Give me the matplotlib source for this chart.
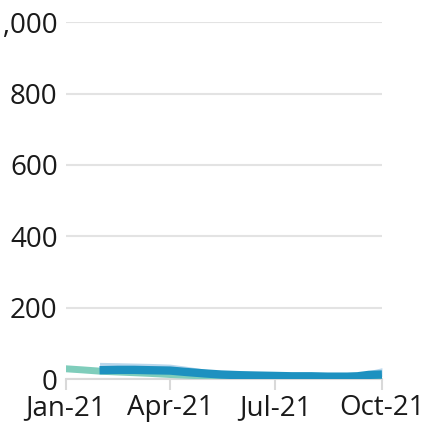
import numpy as np
import pandas as pd
import matplotlib
matplotlib.use("Agg")
import matplotlib.pyplot as plt
import matplotlib.dates as mdates

plt.rcParams['font.family'] = ['Open Sans', 'DejaVu Sans']

# teal series, Jan-Oct
teal_dates = pd.to_datetime(['2021-01-01', '2021-01-15', '2021-02-01', '2021-02-15', '2021-03-01',
                             '2021-03-15', '2021-04-01', '2021-04-15', '2021-05-01', '2021-05-15',
                             '2021-06-01', '2021-06-15', '2021-07-01', '2021-07-15', '2021-08-01',
                             '2021-08-15', '2021-09-01', '2021-09-15', '2021-10-01'])
teal_vals = [29, 26, 22, 20, 18, 16, 13, 11, 9, 7, 6, 5, 5, 4, 4, 4, 3, 3, 2]

# blue series with uncertainty band
blue_dates = pd.to_datetime(['2021-01-30', '2021-02-15', '2021-03-01', '2021-03-15', '2021-04-01',
                             '2021-04-15', '2021-05-01', '2021-05-15', '2021-06-01', '2021-06-15',
                             '2021-07-01', '2021-07-15', '2021-08-01', '2021-08-15', '2021-09-01',
                             '2021-09-10', '2021-09-20', '2021-10-01'])
blue_vals = [25, 26, 26, 25, 24, 20, 16, 13, 11, 10, 9, 8, 8, 7, 7, 8, 12, 13]
band_hi = [47, 46, 45, 44, 42, 36, 28, 22, 18, 16, 14, 13, 12, 12, 12, 14, 24, 32]
band_lo = [19, 20, 20, 19, 18, 15, 11, 9, 7, 6, 5, 4, 4, 4, 4, 4, 6, 7]

# dark navy series
navy_dates = pd.to_datetime(['2021-04-15', '2021-05-01', '2021-05-15', '2021-06-01', '2021-06-15',
                             '2021-07-01', '2021-07-15', '2021-08-01', '2021-08-15', '2021-09-01',
                             '2021-09-15'])
navy_vals = [21, 17, 15, 14, 13, 13, 12, 11, 10, 10, 10]

fig = plt.figure(figsize=(4.34, 4.26), dpi=100)
ax = fig.add_axes([0.152, 0.110, 0.728, 0.838])

ax.fill_between(blue_dates, band_lo, band_hi, color='#b9d7ec', lw=0, zorder=2)
ax.plot(teal_dates, teal_vals, color='#7fcdbb', lw=5, solid_capstyle='round', zorder=3)
ax.plot(navy_dates, navy_vals, color='#253494', lw=2.5, zorder=4)
ax.plot(blue_dates, blue_vals, color='#1d91c0', lw=6, solid_capstyle='butt', zorder=5)

ax.set_ylim(0, 1000)
ax.set_xlim(pd.Timestamp('2021-01-01'), pd.Timestamp('2021-10-01'))
ax.set_yticks([0, 200, 400, 600, 800, 1000])
ax.set_yticklabels(['0', '200', '400', '600', '800', '1,000'])
ax.set_xticks(pd.to_datetime(['2021-01-01', '2021-04-01', '2021-07-01', '2021-10-01']))
ax.xaxis.set_major_formatter(mdates.DateFormatter('%b-%y'))

ax.grid(axis='y', color='#e3e3e3', lw=1.5)
ax.set_axisbelow(True)
for s in ['top', 'right', 'left']:
    ax.spines[s].set_visible(False)
ax.spines['bottom'].set_color('#d9d9d9')
ax.spines['bottom'].set_linewidth(1.5)
ax.tick_params(axis='y', length=0, pad=6, labelsize=20, labelcolor='#1a1a1a')
ax.tick_params(axis='x', length=8, width=1.5, color='#d9d9d9', pad=3, labelsize=20,
               labelcolor='#1a1a1a')

fig.savefig('out.png', dpi=100)
